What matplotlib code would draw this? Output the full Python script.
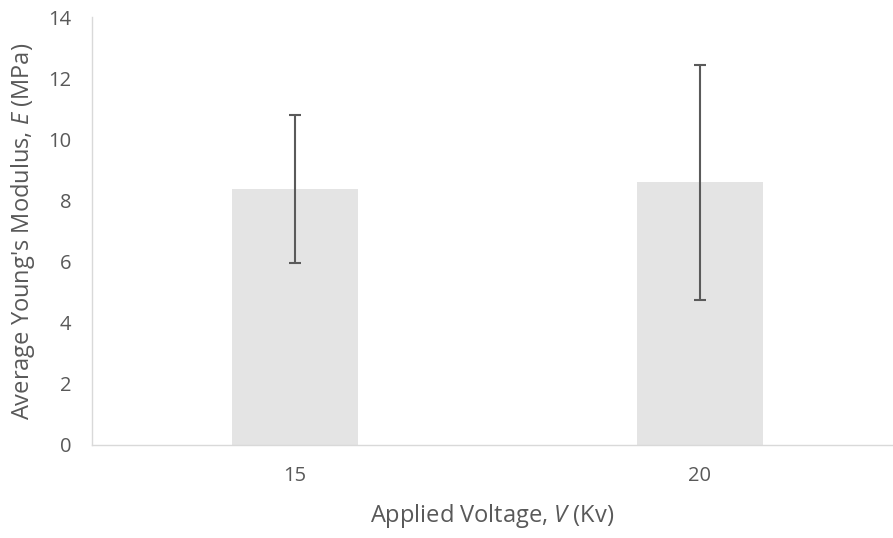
import numpy as np
import matplotlib
matplotlib.use("Agg")
import matplotlib.pyplot as plt

# Data
voltages = ["15", "20"]
modulus = [8.37, 8.60]
modulus_err = [2.42, 3.85]

plt.rcParams['font.family'] = ['Open Sans', 'DejaVu Sans']
plt.rcParams['mathtext.fontset'] = 'custom'
plt.rcParams['mathtext.rm'] = 'Open Sans'
plt.rcParams['mathtext.it'] = 'Open Sans:italic'

txt = '#595959'

fig = plt.figure(figsize=(8.93, 5.38), dpi=100)
ax = fig.add_axes([0.103, 0.173, 0.896, 0.795])

x = np.arange(len(voltages))
ax.bar(x, modulus, width=0.311, color='#E4E4E4', zorder=2)
ax.errorbar(x, modulus, yerr=modulus_err, fmt='none', ecolor='#5A5A5A',
            elinewidth=1.5, capsize=4.5, capthick=1.5, zorder=3)

ax.set_xlim(-0.5, 1.475)
ax.set_ylim(0, 14)
ax.set_yticks(np.arange(0, 15, 2))
ax.set_xticks(x)
ax.set_xticklabels(voltages)

for s in ['top', 'right']:
    ax.spines[s].set_visible(False)
for s in ['left', 'bottom']:
    ax.spines[s].set_color('#D9D9D9')
    ax.spines[s].set_linewidth(1.0)

ax.tick_params(length=0, labelsize=14.5, colors=txt)
ax.tick_params(axis='x', pad=15)
ax.tick_params(axis='y', pad=15)

ax.set_xlabel("Applied Voltage, $V$ (Kv)", fontsize=17, color=txt, labelpad=12)
ax.set_ylabel("Average Young's Modulus, $E$ (MPa)", fontsize=17, color=txt, labelpad=8)

fig.savefig("out.png", dpi=100)
